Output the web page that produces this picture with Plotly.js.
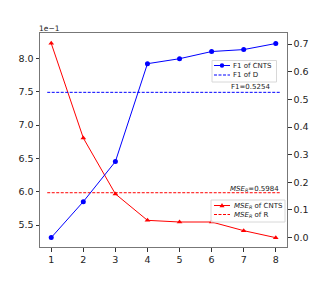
<!DOCTYPE html>
<html><head><meta charset="utf-8">
<script src="https://cdn.plot.ly/plotly-3.0.1.min.js"></script>
<style>html,body{margin:0;padding:0;background:#fff}#c{width:319px;height:283px}</style>
</head><body><div id="c"></div>
<script>
const steps = [1, 2, 3, 4, 5, 6, 7, 8];
const f1Cnts = [0.0, 0.130, 0.275, 0.629, 0.647, 0.673, 0.680, 0.702];
const mseCnts = [8.225, 6.805, 5.966, 5.57, 5.545, 5.545, 5.415, 5.31]; // in units of 1e-1
const f1D = 0.5254;
const mseR = 5.984; // in units of 1e-1
const leftTicks = [5.5, 6.0, 6.5, 7.0, 7.5, 8.0];
const rightTicks = [0.0, 0.1, 0.2, 0.3, 0.4, 0.5, 0.6, 0.7];
const legend1Labels = ['F1 of CNTS', 'F1 of D'];
const legend2Labels = ['<i>MSE<sub>R</sub></i> of CNTS', '<i>MSE<sub>R</sub></i> of R'];

const W = 319, H = 283;
const M = {l: 40, r: 32, t: 33, b: 36};
const X = px => (px - M.l) / (W - M.l - M.r);
const Y = py => (H - M.b - py) / (H - M.t - M.b);
const font = "DejaVu Sans, sans-serif";
const dash = '3px,1.5px';
const xSpan = [steps[0] - 0.125, steps[steps.length - 1] + 0.125];

const traces = [
  {x: steps, y: mseCnts, yaxis: 'y', mode: 'lines+markers',
   line: {color: 'red', width: 1}, marker: {symbol: 'triangle-up', size: 5, color: 'red'}},
  {x: xSpan, y: [mseR, mseR], yaxis: 'y', mode: 'lines',
   line: {color: 'red', width: 1, dash: dash}},
  {x: steps, y: f1Cnts, yaxis: 'y2', mode: 'lines+markers',
   line: {color: 'blue', width: 1}, marker: {symbol: 'circle', size: 5, color: 'blue'}},
  {x: xSpan, y: [f1D, f1D], yaxis: 'y2', mode: 'lines',
   line: {color: 'blue', width: 1, dash: dash}}
];

// custom legends (compact, matplotlib-like)
const shapes = [];
const annotations = [
  {xref: 'paper', yref: 'paper', x: 0, y: 1, xanchor: 'left', yanchor: 'bottom', text: '1e\u22121',
   showarrow: false, font: {size: 7.5}, xshift: -3, yshift: -2},
  {xref: 'x', yref: 'y2', x: 6.55, y: f1D, xanchor: 'left', yanchor: 'middle',
   text: 'F1=' + f1D.toFixed(4), showarrow: false, font: {size: 7}, yshift: 5},
  {xref: 'x', yref: 'y', x: 6.52, y: mseR, xanchor: 'left', yanchor: 'middle',
   text: '<i>MSE<sub>R</sub></i>=' + (mseR / 10).toFixed(4), showarrow: false, font: {size: 7}, yshift: 4}
];
function legendBox(x0, x1, y0, y1) {
  shapes.push({type: 'rect', xref: 'paper', yref: 'paper', x0: X(x0), x1: X(x1), y0: Y(y1), y1: Y(y0),
    line: {color: '#d8d8d8', width: 1}, fillcolor: 'rgba(255,255,255,0.85)', layer: 'above'});
}
function legendEntry(py, color, dashed, symbol, label, textX) {
  shapes.push({type: 'line', xref: 'paper', yref: 'paper', x0: X(214), x1: X(230), y0: Y(py), y1: Y(py),
    line: {color: color, width: 1, dash: dashed ? dash : 'solid'}, layer: 'above'});
  if (symbol === 'circle') {
    shapes.push({type: 'circle', xref: 'paper', yref: 'paper', x0: X(219.8), x1: X(224.2), y0: Y(py + 2.2), y1: Y(py - 2.2),
      fillcolor: color, line: {width: 0}, layer: 'above'});
  } else if (symbol === 'triangle') {
    shapes.push({type: 'path', xref: 'paper', yref: 'paper',
      path: `M ${X(219.5)} ${Y(py + 1.8)} L ${X(224.5)} ${Y(py + 1.8)} L ${X(222)} ${Y(py - 2.6)} Z`,
      fillcolor: color, line: {width: 0}, layer: 'above'});
  }
  annotations.push({xref: 'paper', yref: 'paper', x: X(textX), y: Y(py), xanchor: 'left', yanchor: 'middle',
    text: label, showarrow: false, font: {size: 7}, xshift: -2});
}
legendBox(212, 276.5, 60.5, 82);
legendEntry(65.5, 'blue', false, 'circle', legend1Labels[0], 233);
legendEntry(75, 'blue', true, null, legend1Labels[1], 233);
legendBox(211, 285, 200, 222);
legendEntry(205.5, 'red', false, 'triangle', legend2Labels[0], 234);
legendEntry(214.5, 'red', true, null, legend2Labels[1], 234);

const axLine = '#777';
const layout = {
  width: W, height: H, margin: M, showlegend: false,
  paper_bgcolor: '#fff', plot_bgcolor: '#fff',
  font: {family: font, size: 9, color: '#222'},
  xaxis: {range: [0.65, 8.35], tickvals: steps, ticks: 'outside', ticklen: 3.5, tickcolor: '#333',
    showgrid: false, zeroline: false, showline: true, linecolor: axLine, linewidth: 1, mirror: true,
    tickfont: {size: 9.5}},
  yaxis: {range: [5.17, 8.38], tickvals: leftTicks, ticktext: leftTicks.map(v => v.toFixed(1)),
    ticks: 'outside', ticklen: 3.5, tickcolor: '#333', showgrid: false, zeroline: false,
    showline: true, linecolor: axLine, linewidth: 1, tickfont: {size: 9.5}},
  yaxis2: {range: [-0.034, 0.74], overlaying: 'y', side: 'right', tickvals: rightTicks,
    ticktext: rightTicks.map(v => v.toFixed(1)), ticks: 'outside', ticklen: 3.5, tickcolor: '#333',
    showgrid: false, zeroline: false, showline: true, linecolor: axLine, linewidth: 1, tickfont: {size: 9.5}},
  shapes: shapes,
  annotations: annotations
};
Plotly.newPlot('c', traces, layout, {displayModeBar: false, staticPlot: true});
</script></body></html>
